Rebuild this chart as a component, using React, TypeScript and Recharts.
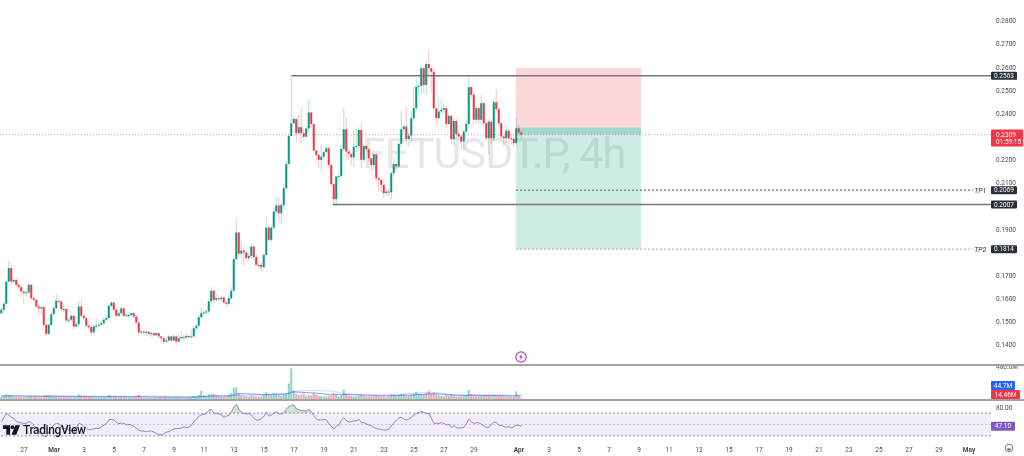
import { Area, Bar, Cell, ComposedChart, Line, ReferenceArea, ReferenceDot, ReferenceLine, XAxis, YAxis } from "recharts";

const FONT = "Roboto, 'Liberation Sans', sans-serif";
const UP = "#089981";
const DOWN = "#f23645";
const AXIS_TEXT = "#4a4a4a";
const PURPLE = "#7e57c2";

const firstOpen = 0.1537;
const closes = [
  .1552, .1578, .1674, .1732, .1674, .1681, .1660, .1650, .1631, .1624,
  .1627, .1660, .1602, .1595, .1566, .1558, .1563, .1487, .1448, .1487,
  .1533, .1559, .1591, .1588, .1555, .1555, .1506, .1509, .1526, .1480,
  .1490, .1566, .1526, .1516, .1483, .1477, .1454, .1480, .1483, .1487,
  .1494, .1509, .1516, .1569, .1583, .1552, .1526, .1537, .1558, .1526,
  .1529, .1529, .1537, .1523, .1497, .1454, .1458, .1455, .1457, .1448,
  .1451, .1442, .1451, .1437, .1429, .1414, .1419, .1437, .1419, .1437,
  .1415, .1429, .1434, .1432, .1439, .1434, .1437, .1472, .1483, .1520,
  .1537, .1540, .1545, .1588, .1634, .1595, .1602, .1598, .1605, .1583,
  .1578, .1602, .1634, .1771, .1886, .1794, .1808, .1800, .1775, .1785,
  .1825, .1780, .1746, .1746, .1736, .1789, .1907, .1854, .1907, .1977,
  .2003, .1969, .2005, .2077, .2182, .2303, .2358, .2377, .2315, .2341,
  .2315, .2300, .2336, .2405, .2355, .2240, .2221, .2200, .2214, .2233,
  .2250, .2178, .2095, .2030, .2128, .2130, .2247, .2332, .2236, .2226,
  .2211, .2257, .2260, .2329, .2200, .2260, .2246, .2207, .2178, .2224,
  .2121, .2114, .2092, .2056, .2063, .2060, .2142, .2182, .2171, .2269,
  .2332, .2344, .2290, .2305, .2380, .2423, .2516, .2520, .2596, .2524,
  .2614, .2596, .2581, .2423, .2380, .2409, .2416, .2423, .2355, .2390,
  .2289, .2368, .2312, .2301, .2279, .2322, .2355, .2514, .2481, .2373,
  .2423, .2373, .2445, .2358, .2293, .2365, .2293, .2449, .2419, .2358,
  .2301, .2293, .2326, .2293, .2290, .2272, .2336, .2319, .2309,
];
const highs = [
  .1560, .1585, .1680, .1761, .1745, .1695, .1690, .1665, .1650, .1630,
  .1640, .1668, .1665, .1610, .1590, .1575, .1570, .1568, .1490, .1495,
  .1545, .1570, .1620, .1610, .1590, .1575, .1560, .1520, .1535, .1530,
  .1500, .1590, .1595, .1535, .1520, .1490, .1480, .1490, .1512, .1495,
  .1505, .1520, .1525, .1575, .1590, .1585, .1560, .1550, .1570, .1562,
  .1540, .1540, .1545, .1542, .1525, .1500, .1465, .1465, .1462, .1460,
  .1462, .1455, .1458, .1450, .1440, .1432, .1435, .1445, .1442, .1450,
  .1442, .1445, .1460, .1445, .1450, .1445, .1465, .1480, .1490, .1530,
  .1565, .1555, .1555, .1600, .1650, .1640, .1625, .1615, .1615, .1610,
  .1590, .1615, .1650, .1780, .1945, .1890, .1850, .1825, .1805, .1800,
  .1840, .1830, .1790, .1760, .1760, .1795, .1955, .1915, .1915, .1990,
  .2040, .2040, .2015, .2095, .2195, .2310, .2563, .2385, .2375, .2395,
  .2425, .2335, .2345, .2460, .2410, .2360, .2245, .2225, .2265, .2240,
  .2260, .2255, .2180, .2100, .2130, .2140, .2260, .2423, .2385, .2240,
  .2225, .2325, .2335, .2340, .2360, .2265, .2262, .2250, .2210, .2230,
  .2225, .2130, .2115, .2095, .2070, .2080, .2150, .2205, .2185, .2280,
  .2410, .2350, .2430, .2315, .2410, .2515, .2550, .2530, .2610, .2600,
  .2625, .2675, .2600, .2590, .2400, .2470, .2460, .2445, .2430, .2400,
  .2395, .2380, .2375, .2325, .2310, .2330, .2375, .2567, .2520, .2490,
  .2435, .2430, .2480, .2450, .2365, .2375, .2375, .2460, .2505, .2425,
  .2360, .2310, .2350, .2335, .2310, .2300, .2385, .2350, .2325,
];
const lows = [
  .1535, .1545, .1575, .1670, .1660, .1665, .1650, .1635, .1605, .1578,
  .1610, .1620, .1595, .1585, .1560, .1530, .1530, .1480, .1440, .1440,
  .1480, .1530, .1555, .1580, .1540, .1540, .1495, .1495, .1500, .1465,
  .1470, .1480, .1520, .1505, .1475, .1465, .1440, .1445, .1470, .1478,
  .1485, .1490, .1505, .1510, .1560, .1545, .1515, .1520, .1530, .1520,
  .1520, .1518, .1525, .1515, .1490, .1440, .1440, .1445, .1440, .1442,
  .1435, .1435, .1440, .1428, .1415, .1405, .1410, .1412, .1410, .1415,
  .1400, .1410, .1420, .1422, .1430, .1428, .1430, .1435, .1465, .1475,
  .1515, .1530, .1535, .1535, .1580, .1580, .1585, .1590, .1590, .1575,
  .1565, .1570, .1595, .1630, .1765, .1780, .1775, .1739, .1760, .1765,
  .1775, .1770, .1740, .1735, .1720, .1730, .1780, .1845, .1845, .1900,
  .1960, .1940, .1925, .1990, .2070, .2175, .2300, .2350, .2272, .2310,
  .2272, .2285, .2295, .2320, .2340, .2230, .2190, .2165, .2150, .2200,
  .2235, .2165, .2085, .2000, .2000, .2110, .2125, .2235, .2205, .2205,
  .2175, .2170, .2235, .2235, .2165, .2190, .2235, .2190, .2150, .2155,
  .2105, .2060, .2060, .2035, .2045, .2041, .2027, .2130, .2155, .2165,
  .2255, .2310, .2265, .2255, .2275, .2365, .2410, .2480, .2480, .2490,
  .2480, .2560, .2490, .2410, .2355, .2370, .2400, .2400, .2340, .2350,
  .2270, .2265, .2290, .2285, .2243, .2240, .2340, .2340, .2465, .2350,
  .2360, .2355, .2350, .2340, .2275, .2222, .2270, .2280, .2400, .2345,
  .2290, .2260, .2275, .2275, .2265, .2255, .2265, .2310, .2290,
];
// volume, millions
const volumes = [
  38, 45, 68, 60, 52, 40, 35, 32, 30, 28,
  26, 40, 42, 32, 30, 28, 26, 45, 60, 55,
  40, 36, 42, 34, 30, 28, 34, 26, 24, 32,
  28, 65, 48, 34, 38, 30, 36, 28, 24, 26,
  26, 30, 32, 60, 46, 38, 34, 28, 30, 36,
  28, 26, 28, 30, 42, 62, 30, 22, 20, 24,
  20, 24, 20, 28, 30, 36, 28, 26, 24, 22,
  30, 24, 22, 20, 24, 22, 26, 45, 40, 60,
  120, 55, 40, 70, 80, 75, 55, 40, 38, 36,
  36, 60, 90, 170, 175, 90, 55, 45, 42, 36,
  55, 45, 40, 34, 40, 60, 100, 70, 60, 85,
  75, 65, 50, 70, 85, 235, 460, 130, 80, 60,
  65, 85, 50, 60, 55, 90, 65, 50, 42, 38,
  40, 50, 60, 85, 60, 40, 60, 145, 75, 55,
  45, 40, 35, 50, 70, 50, 40, 42, 38, 40,
  60, 42, 36, 45, 30, 40, 70, 60, 50, 60,
  75, 70, 55, 50, 60, 80, 110, 80, 75, 70,
  90, 125, 80, 95, 70, 55, 45, 40, 60, 45,
  70, 55, 40, 36, 45, 45, 60, 135, 70, 60,
  45, 50, 50, 55, 60, 50, 55, 60, 45, 50,
  55, 40, 42, 38, 35, 40, 115, 50, 14.5,
];
const volumeMa = [
  44, 44, 45, 46, 46, 46, 45, 44, 43, 42,
  41, 41, 41, 40, 40, 39, 38, 38, 39, 40,
  40, 40, 40, 40, 39, 38, 38, 37, 36, 36,
  35, 37, 38, 38, 38, 37, 37, 36, 35, 34,
  34, 34, 34, 36, 37, 37, 36, 36, 36, 36,
  35, 35, 34, 34, 35, 37, 36, 35, 34, 33,
  32, 31, 30, 30, 30, 30, 30, 29, 29, 28,
  28, 28, 28, 27, 27, 27, 27, 28, 29, 31,
  36, 38, 38, 40, 43, 46, 47, 47, 47, 47,
  47, 48, 51, 62, 76, 80, 80, 80, 78, 76,
  75, 74, 72, 70, 69, 68, 70, 70, 70, 72,
  73, 73, 73, 74, 75, 85, 102, 104, 104, 102,
  100, 98, 96, 94, 92, 90, 88, 85, 80, 75,
  72, 70, 70, 70, 68, 66, 65, 68, 68, 66,
  64, 62, 60, 60, 60, 60, 58, 56, 54, 52,
  50, 50, 50, 50, 48, 48, 50, 52, 52, 54,
  56, 58, 58, 58, 60, 62, 66, 68, 68, 70,
  72, 76, 78, 78, 76, 74, 72, 68, 66, 62,
  60, 60, 58, 56, 54, 54, 54, 58, 58, 58,
  56, 56, 54, 54, 54, 54, 54, 54, 52, 52,
  52, 50, 48, 48, 46, 46, 50, 48, 44.7,
];
const volumeMaSlow = [
  52, 52, 52, 52, 52, 52, 52, 52, 51, 51,
  51, 51, 50, 50, 50, 50, 49, 49, 49, 49,
  49, 48, 48, 48, 48, 47, 47, 47, 47, 46,
  46, 46, 46, 46, 45, 45, 45, 45, 44, 44,
  44, 44, 44, 44, 44, 44, 44, 44, 44, 43,
  43, 43, 43, 43, 43, 43, 42, 42, 42, 42,
  41, 41, 41, 40, 40, 40, 40, 40, 39, 39,
  39, 39, 38, 38, 38, 38, 38, 38, 38, 38,
  40, 40, 41, 41, 42, 42, 43, 43, 44, 44,
  44, 45, 46, 49, 52, 54, 55, 56, 56, 57,
  57, 58, 58, 58, 59, 60, 62, 64, 66, 68,
  70, 72, 74, 76, 80, 90, 104, 112, 116, 120,
  122, 124, 125, 126, 126, 126, 126, 125, 124, 123,
  122, 120, 118, 114, 108, 100, 90, 84, 80, 76,
  72, 68, 66, 64, 62, 62, 62, 62, 62, 62,
  62, 62, 62, 62, 62, 64, 66, 68, 70, 72,
  74, 76, 78, 80, 82, 84, 88, 90, 92, 94,
  95, 96, 96, 96, 95, 92, 88, 82, 76, 70,
  66, 62, 60, 60, 60, 60, 60, 60, 60, 60,
  60, 60, 60, 60, 60, 60, 60, 60, 60, 60,
  60, 60, 60, 60, 60, 60, 60, 60, 60,
];
const rsi = [
  54.9, 62.5, 69.5, 66.6, 62.5, 60.7, 55.5, 53.7, 52.5, 52,
  52, 55.5, 53, 47.9, 43.2, 37.3, 33.2, 29.7, 28.5, 37.3,
  44.3, 49.6, 52, 51.4, 46.1, 43.2, 43.2, 40.3, 39.7, 40.3,
  44.3, 52, 50.2, 46.1, 42.6, 40.9, 41.4, 42.6, 43.2, 43.2,
  46.1, 49, 52, 58.4, 59, 57.8, 53.7, 51.4, 52.5, 52,
  49, 50.2, 49, 46.7, 43.2, 39.7, 38.5, 38.5, 37.3, 38.5,
  38.5, 36.7, 34.4, 32.1, 32.1, 33.8, 36.7, 37.3, 40.3, 42,
  43.2, 42.6, 43.8, 46.1, 44.3, 45.5, 49, 55.5, 59, 64.8,
  67.1, 67.7, 69.5, 75.4, 76.5, 69.5, 69.5, 68.9, 66.6, 62.5,
  64.8, 66, 72.4, 81.2, 85.3, 76.5, 71.3, 69.5, 68.3, 69.5,
  66.6, 60.7, 57.8, 57.8, 60, 64.8, 71.3, 64.8, 66.6, 70.7,
  72.4, 68.9, 68.3, 70.7, 77.7, 81.2, 83.5, 84.1, 77.1, 75.9,
  74.8, 73.6, 74.2, 76.5, 72.4, 64.8, 59, 57.8, 57.8, 59,
  57.8, 51.4, 46.1, 42, 47.3, 49, 57.8, 61.9, 56.6, 54.3,
  54.9, 56.6, 56.6, 59, 53.1, 53.1, 50.8, 49, 47.9, 44.9,
  42.6, 42, 40.9, 40.3, 40.3, 42, 47.9, 53.1, 57.8, 61.9,
  62.5, 59, 57.8, 59.6, 62.5, 66.6, 69.5, 71.3, 73.6, 70.7,
  69.5, 69.5, 60.7, 52, 52, 52, 53.1, 52, 49, 50.2,
  44.3, 47.9, 44.3, 43.8, 44.3, 44.9, 52, 59.6, 54.3, 52,
  53.1, 53.1, 50.2, 47.3, 44.3, 44.9, 50.8, 54.3, 53.1, 49,
  48.5, 46.1, 45.5, 46.1, 44.3, 46.1, 49, 48.5, 47.1,
];

// candle slots, one per 4h
const dateTicks = [9, 21, 33, 45, 57, 69, 81, 93, 105, 117, 129, 141, 153, 165, 177, 189, 207, 219, 231, 243, 255, 267, 279, 291, 303, 315, 327, 339, 351, 363, 375, 387];
const dateLabels = ["27", "Mar", "3", "5", "7", "9", "11", "13", "15", "17", "19", "21", "23", "25", "27", "29", "Apr", "3", "5", "7", "9", "11", "13", "15", "17", "19", "21", "23", "25", "27", "29", "May"];
const monthLabels = ["Mar", "Apr", "May"];
// 0.18, 0.20 and 0.23 sit behind the price tags in the original
const priceTicks = [0.14, 0.15, 0.16, 0.17, 0.19, 0.21, 0.22, 0.24, 0.25, 0.26, 0.27, 0.28];

const X_DOMAIN: [number, number] = [-0.6, 395.8];
const PRICE_DOMAIN: [number, number] = [0.13177, 0.28907];
const VOLUME_DOMAIN: [number, number] = [0, 495];
const RSI_DOMAIN: [number, number] = [19.3, 91.2];

const resistance = 0.2563;
const support = 0.2007;
const lastPrice = 0.2309;
const tp1 = 0.2069;
const tp2 = 0.1814;
const stopTop = 0.2597;
const entry = 0.234;
const boxStart = 205.8;
const boxEnd = 255.8;
const tpLineEnd = 388.6;

const rows = closes.map((close, i) => {
  const open = i === 0 ? firstOpen : closes[i - 1];
  return {
    i,
    open,
    close,
    high: highs[i],
    low: lows[i],
    volume: volumes[i],
    ma: volumeMa[i],
    maSlow: volumeMaSlow[i],
    rsi: rsi[i],
    hot: rsi[i] > 70 ? [70, rsi[i]] : null,
    up: close >= open,
  };
});

function Candle(props: any) {
  const { x, y, width, height, payload } = props;
  const color = payload.up ? UP : DOWN;
  const perUnit = height / (payload.high - payload.low || 1);
  const top = y + (payload.high - Math.max(payload.open, payload.close)) * perUnit;
  const bodyH = Math.max(1, Math.abs(payload.open - payload.close) * perUnit);
  return (
    <g>
      <rect x={x + width / 2 - 0.5} y={y} width={1} height={height} fill={color} opacity={0.3} />
      <rect x={x} y={top} width={width} height={bodyH} fill={color} />
    </g>
  );
}

function PriceTag(props: any) {
  const { cx, cy, text } = props;
  return (
    <g>
      <rect x={cx} y={cy - 4} width={26} height={8} rx={1} fill="#2a2e39" />
      <text x={cx + 13} y={cy + 2.3} textAnchor="middle" fontSize={6.5} fill="#fff" fontFamily={FONT}>
        {text}
      </text>
    </g>
  );
}

function LastPriceTag(props: any) {
  const { cx, cy } = props;
  return (
    <g>
      <rect x={cx} y={cy - 5} width={32} height={17} rx={1} fill={DOWN} />
      <text x={cx + 5} y={cy + 2.3} fontSize={6.5} fill="#fff" fontFamily={FONT}>
        {lastPrice.toFixed(4)}
      </text>
      <text x={cx + 5} y={cy + 9.5} fontSize={6.5} fill="#fff" fontFamily={FONT}>
        01:59:15
      </text>
    </g>
  );
}

function TpText(props: any) {
  const { cx, cy, text } = props;
  return (
    <text x={cx} y={cy + 2.5} textAnchor="middle" fontSize={7} fontStyle="italic" fill="#333" fontFamily={FONT}>
      {text}
    </text>
  );
}

function PaneTag(props: any) {
  const { cx, cy, text, color, w } = props;
  return (
    <g>
      <rect x={cx} y={cy - 4.5} width={w} height={9} rx={1} fill={color} />
      <text x={cx + w / 2} y={cy + 2.3} textAnchor="middle" fontSize={6.5} fill="#fff" fontFamily={FONT}>
        {text}
      </text>
    </g>
  );
}

function DateTick(props: any) {
  const { x, y, payload } = props;
  const label = dateLabels[dateTicks.indexOf(payload.value)];
  return (
    <text
      x={x}
      y={y + 2}
      textAnchor="middle"
      fontSize={6.5}
      fill={AXIS_TEXT}
      fontWeight={monthLabels.includes(label) ? 700 : 400}
      fontFamily={FONT}
    >
      {label}
    </text>
  );
}

function Pane({ top, height, children }: { top: number; height: number; children: React.ReactNode }) {
  return <div style={{ position: "absolute", left: 0, top, width: 1024, height }}>{children}</div>;
}

function Divider({ top }: { top: number }) {
  return <div style={{ position: "absolute", left: 0, top, width: 1024, height: 2, background: "#a3a3a3" }} />;
}

export default function App() {
  const yTick = { fontSize: 6.5, fill: AXIS_TEXT, fontFamily: FONT };
  return (
    <div style={{ position: "absolute", left: 0, top: 0, width: 1024, height: 456, background: "#fff", overflow: "hidden", filter: "blur(0.3px)" }}>
      <div
        style={{
          position: "absolute",
          left: 362,
          top: 128,
          fontFamily: FONT,
          fontSize: 43,
          lineHeight: "50px",
          letterSpacing: -0.9,
          color: "#e7e7e7",
          whiteSpace: "nowrap",
        }}
      >
        FETUSDT.P, 4h
      </div>

      <Pane top={0} height={364}>
        <ComposedChart width={1024} height={364} data={rows} margin={{ top: 0, right: 0, bottom: 0, left: 0 }}>
          <XAxis dataKey="i" type="number" domain={X_DOMAIN} allowDataOverflow hide />
          <YAxis
            orientation="right"
            width={33}
            domain={PRICE_DOMAIN}
            allowDataOverflow
            ticks={priceTicks}
            interval={0}
            axisLine={false}
            tickLine={false}
            tickSize={0}
            tickMargin={5}
            tick={yTick}
            tickFormatter={(v: number) => v.toFixed(4)}
          />
          <ReferenceArea x1={boxStart} x2={boxEnd} y1={entry} y2={stopTop} fill={DOWN} fillOpacity={0.2} stroke="none" />
          <ReferenceArea x1={boxStart} x2={boxEnd} y1={tp2} y2={entry} fill={UP} fillOpacity={0.2} stroke="none" />
          <ReferenceArea x1={boxStart} x2={boxEnd} y1={lastPrice} y2={entry} fill={UP} fillOpacity={0.22} stroke="none" />
          <ReferenceLine y={lastPrice} stroke={DOWN} strokeOpacity={0.55} strokeDasharray="1 2" strokeWidth={1} />
          <ReferenceLine segment={[{ x: 116, y: resistance }, { x: X_DOMAIN[1], y: resistance }]} stroke="#777" strokeWidth={1.5} />
          <ReferenceLine segment={[{ x: 132.6, y: support }, { x: X_DOMAIN[1], y: support }]} stroke="#777" strokeWidth={1.5} />
          <ReferenceLine segment={[{ x: boxStart, y: tp1 }, { x: tpLineEnd, y: tp1 }]} stroke="#555" strokeDasharray="2 2" strokeWidth={1} />
          <ReferenceLine segment={[{ x: boxStart, y: tp2 }, { x: tpLineEnd, y: tp2 }]} stroke="#aaa" strokeDasharray="2 2" strokeWidth={1} />
          <Bar dataKey={(d: any) => [d.low, d.high]} barSize={2} shape={<Candle />} isAnimationActive={false} />
          <ReferenceDot x={391.5} y={tp1} r={0} ifOverflow="visible" shape={<TpText text="TP1" />} />
          <ReferenceDot x={391.5} y={tp2} r={0} ifOverflow="visible" shape={<TpText text="TP2" />} />
          <ReferenceDot x={X_DOMAIN[1]} y={resistance} r={0} ifOverflow="visible" shape={<PriceTag text={resistance.toFixed(4)} />} />
          <ReferenceDot x={X_DOMAIN[1]} y={tp1} r={0} ifOverflow="visible" shape={<PriceTag text={tp1.toFixed(4)} />} />
          <ReferenceDot x={X_DOMAIN[1]} y={support} r={0} ifOverflow="visible" shape={<PriceTag text={support.toFixed(4)} />} />
          <ReferenceDot x={X_DOMAIN[1]} y={tp2} r={0} ifOverflow="visible" shape={<PriceTag text={tp2.toFixed(4)} />} />
          <ReferenceDot x={X_DOMAIN[1]} y={lastPrice} r={0} ifOverflow="visible" shape={<LastPriceTag />} />
        </ComposedChart>
      </Pane>

      <svg style={{ position: "absolute", left: 514, top: 350 }} width={14} height={14} viewBox="0 0 14 14">
        <circle cx={7} cy={7} r={5.2} fill="#fff" stroke="#ab47bc" strokeWidth={1.2} />
        <path d="M7.8 3.8 L5 7.6 H6.8 L6.2 10.2 L9 6.4 H7.2 Z" fill="#ab47bc" />
      </svg>

      <Pane top={366} height={33}>
        <ComposedChart width={1024} height={33} data={rows} margin={{ top: 0, right: 0, bottom: 0, left: 0 }} style={{ overflow: "visible" }}>
          <XAxis dataKey="i" type="number" domain={X_DOMAIN} allowDataOverflow hide />
          <YAxis
            orientation="right"
            width={33}
            domain={VOLUME_DOMAIN}
            ticks={[480]}
            interval={0}
            axisLine={false}
            tickLine={false}
            tickSize={0}
            tickMargin={5}
            tick={yTick}
            tickFormatter={(v: number) => `${v.toFixed(1)}M`}
          />
          <Bar dataKey="volume" barSize={2} isAnimationActive={false}>
            {rows.map((r) => (
              <Cell key={r.i} fill={r.up ? UP : DOWN} fillOpacity={0.45} />
            ))}
          </Bar>
          <Line dataKey="maSlow" stroke="#2962ff" strokeOpacity={0.25} strokeWidth={1} dot={false} isAnimationActive={false} />
          <Line dataKey="ma" stroke="#2962ff" strokeOpacity={0.75} strokeWidth={0.8} dot={false} isAnimationActive={false} />
          <ReferenceDot x={X_DOMAIN[1]} y={202} r={0} ifOverflow="visible" shape={<PaneTag text="44.7M" color="#2962ff" w={24} />} />
          <ReferenceDot x={X_DOMAIN[1]} y={67} r={0} ifOverflow="visible" shape={<PaneTag text="14.46M" color={DOWN} w={29} />} />
        </ComposedChart>
      </Pane>

      <Divider top={364} />
      <Divider top={399} />

      <Pane top={401} height={55}>
        <ComposedChart width={1024} height={55} data={rows} margin={{ top: 0, right: 0, bottom: 0, left: 0 }}>
          <XAxis
            dataKey="i"
            type="number"
            domain={X_DOMAIN}
            allowDataOverflow
            ticks={dateTicks}
            interval={0}
            height={14}
            axisLine={false}
            tickLine={false}
            tick={<DateTick />}
          />
          <YAxis
            orientation="right"
            width={33}
            domain={RSI_DOMAIN}
            allowDataOverflow
            ticks={[80]}
            interval={0}
            axisLine={false}
            tickLine={false}
            tickSize={0}
            tickMargin={5}
            tick={yTick}
            tickFormatter={(v: number) => v.toFixed(2)}
          />
          <ReferenceArea y1={30} y2={70} fill={PURPLE} fillOpacity={0.1} stroke="none" />
          <ReferenceLine y={70} stroke="#787b86" strokeDasharray="2 2" strokeWidth={0.8} />
          <ReferenceLine y={50} stroke="#787b86" strokeOpacity={0.45} strokeDasharray="2 2" strokeWidth={0.8} />
          <ReferenceLine y={30} stroke="#787b86" strokeDasharray="2 2" strokeWidth={0.8} />
          <Area dataKey="hot" stroke="none" fill="#4caf50" fillOpacity={0.3} dot={false} isAnimationActive={false} />
          <Line dataKey="rsi" stroke={PURPLE} strokeOpacity={0.8} strokeWidth={0.9} dot={false} isAnimationActive={false} />
          <ReferenceDot x={X_DOMAIN[1]} y={47.1} r={0} ifOverflow="visible" shape={<PaneTag text="47.10" color={PURPLE} w={24} />} />
        </ComposedChart>
      </Pane>

      <svg style={{ position: "absolute", left: 3, top: 425 }} width={17} height={10} viewBox="0 0 36 20">
        <path d="M0 0 H15 V20 H7 V8 H0 Z" fill="#131722" />
        <circle cx={20} cy={4} r={4} fill="#131722" />
        <path d="M26 0 H36 L28 20 H18 Z" fill="#131722" />
      </svg>
      <div
        style={{
          position: "absolute",
          left: 23,
          top: 422,
          fontFamily: FONT,
          fontSize: 12,
          fontWeight: 500,
          lineHeight: "16px",
          letterSpacing: -0.4,
          color: "#131722",
          whiteSpace: "nowrap",
        }}
      >
        TradingView
      </div>

      <svg style={{ position: "absolute", left: 1004, top: 443 }} width={10} height={10} viewBox="0 0 10 10">
        <circle cx={5} cy={5} r={3.8} fill="none" stroke="#555" strokeWidth={0.8} />
        <path d="M3 5.5 A2 2 0 0 0 7 5.5 Z" fill="#555" />
      </svg>
    </div>
  );
}
